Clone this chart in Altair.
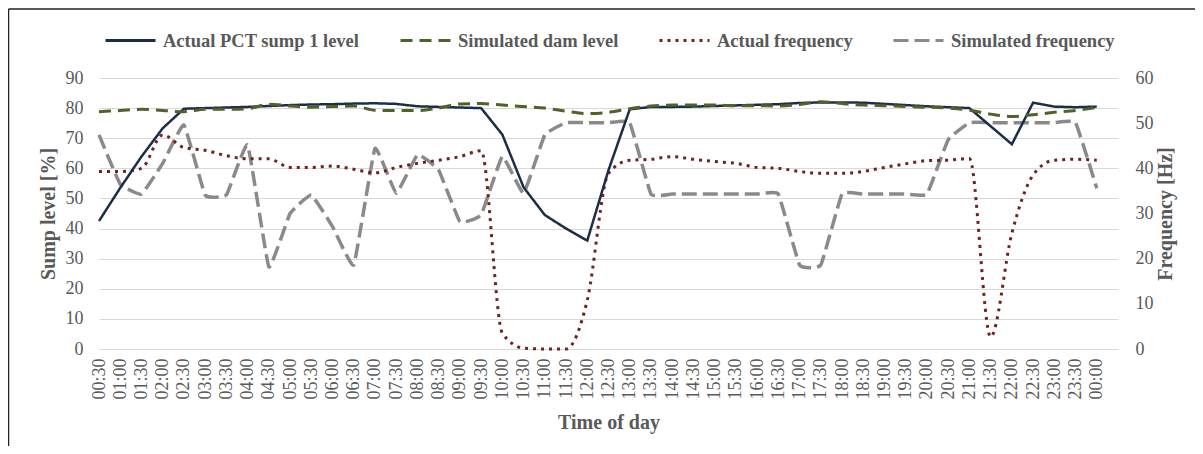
import altair as alt
import pandas as pd

times = ["00:30", "01:00", "01:30", "02:00", "02:30", "03:00", "03:30", "04:00", "04:30", "05:00",
         "05:30", "06:00", "06:30", "07:00", "07:30", "08:00", "08:30", "09:00", "09:30", "10:00",
         "10:30", "11:00", "11:30", "12:00", "12:30", "13:00", "13:30", "14:00", "14:30", "15:00",
         "15:30", "16:00", "16:30", "17:00", "17:30", "18:00", "18:30", "19:00", "19:30", "20:00",
         "20:30", "21:00", "21:30", "22:00", "22:30", "23:00", "23:30", "00:00"]

actual_sump = [42.5, 53.5, 63.9, 73.3, 79.8, 80.0, 80.2, 80.4, 80.7, 81.0,
               81.2, 81.3, 81.5, 81.6, 81.4, 80.6, 80.4, 80.2, 80.0, 71.2,
               53.7, 44.5, 40.0, 36.0, 59.4, 79.6, 80.4, 80.4, 80.5, 80.7,
               80.9, 81.1, 81.3, 81.7, 81.9, 81.9, 81.8, 81.4, 81.0, 80.6,
               80.3, 80.0, 74.0, 68.0, 81.8, 80.5, 80.3, 80.5]

sim_dam = [78.8, 79.2, 79.6, 79.2, 78.8, 79.6, 79.6, 79.8, 81.3, 80.7,
           80.3, 80.5, 80.7, 79.3, 79.2, 79.2, 80.0, 81.4, 81.5, 81.0,
           80.5, 80.0, 79.0, 78.2, 78.6, 79.8, 80.7, 81.0, 81.0, 81.0,
           80.8, 80.8, 80.7, 81.2, 82.1, 81.5, 81.0, 80.8, 80.5, 80.3,
           80.0, 79.3, 78.0, 77.2, 77.8, 78.6, 79.2, 80.2]

actual_freq = [39.3, 39.3, 40.0, 47.4, 44.6, 44.0, 42.8, 42.1, 42.1, 40.2,
               40.2, 40.5, 39.8, 39.0, 40.2, 41.1, 41.8, 42.6, 43.9, 3.5,
               0.2, 0.0, 0.0, 10.8, 38.9, 41.8, 42.0, 42.6, 42.0, 41.5,
               41.1, 40.2, 40.0, 39.3, 38.9, 38.9, 39.3, 40.2, 41.0, 41.7,
               41.8, 42.2, 2.7, 25.6, 38.5, 41.8, 42.0, 41.8]

sim_freq = [47.4, 36.5, 34.3, 41.1, 49.6, 34.1, 34.1, 45.2, 18.2, 30.0,
            34.1, 27.1, 18.6, 44.4, 34.5, 43.0, 39.6, 28.2, 29.7, 42.6,
            34.5, 47.4, 50.1, 50.1, 50.1, 50.1, 34.3, 34.3, 34.3, 34.3,
            34.3, 34.3, 34.3, 18.6, 18.6, 34.3, 34.3, 34.3, 34.3, 34.3,
            46.3, 50.1, 50.1, 50.1, 50.1, 50.1, 50.1, 35.6]

series_names = ["Actual PCT sump 1 level", "Simulated dam level",
                "Actual frequency", "Simulated frequency"]
series_colors = ["#1c2d4a", "#4f6228", "#6e2222", "#8a8a8a"]
series_dashes = [[1, 0], [12, 7], [3, 5], [15, 6]]

FONT = "Liberation Serif"
TEXT = "#595959"

rows = []
for name, vals in zip(series_names, [actual_sump, sim_dam, actual_freq, sim_freq]):
    for t, v in zip(times, vals):
        rows.append({"time": t, "series": name, "value": v})
df = pd.DataFrame(rows)

legend = alt.Legend(
    title=None, orient="none", legendX=5, legendY=-64, direction="horizontal",
    symbolType="stroke", symbolSize=2500, symbolStrokeWidth=3,
    labelFont=FONT, labelFontSize=18.5, labelFontWeight="bold", labelColor=TEXT,
    labelLimit=400, columnPadding=34, labelOffset=6, padding=0,
)
color_enc = alt.Color("series:N", scale=alt.Scale(domain=series_names, range=series_colors),
                      legend=legend)
dash_enc = alt.StrokeDash("series:N", scale=alt.Scale(domain=series_names, range=series_dashes),
                          legend=legend)

x_enc = alt.X(
    "time:N", sort=times,
    scale=alt.Scale(type="point", paddingOuter=0.233, align=0),
    axis=alt.Axis(title="Time of day", labelAngle=270, labelPadding=9, labelOverlap=False,
                  domain=False, ticks=False, grid=False, titlePadding=13),
)

y_left = alt.Y(
    "value:Q", scale=alt.Scale(domain=[0, 90], nice=False),
    axis=alt.Axis(orient="left", values=list(range(0, 91, 10)), title="Sump level [%]",
                  grid=True, gridColor="#d9d9d9", gridWidth=1, domain=False, ticks=False,
                  labelPadding=16, titlePadding=7),
)
y_right = alt.Y(
    "value:Q", scale=alt.Scale(domain=[0, 60], nice=False),
    axis=alt.Axis(orient="right", values=list(range(0, 61, 10)), title="Frequency [Hz]",
                  grid=False, domain=False, ticks=False, labelPadding=17,
                  titleAngle=270, titlePadding=22),
)


def series_layer(name, y_enc, width, interp, tension=None):
    sub = df[df["series"] == name]
    mark_kwargs = {"strokeWidth": width, "interpolate": interp}
    if tension is not None:
        mark_kwargs["tension"] = tension
    return alt.Chart(sub).mark_line(**mark_kwargs).encode(
        x=x_enc, y=y_enc, color=color_enc, strokeDash=dash_enc
    )


right_layers = alt.layer(
    series_layer("Simulated frequency", y_right, 3.5, "cardinal", 0.7),
    series_layer("Actual frequency", y_right, 3, "monotone"),
)
left_layers = alt.layer(
    series_layer("Actual PCT sump 1 level", y_left, 2.5, "linear"),
    series_layer("Simulated dam level", y_left, 3, "monotone"),
)

frame_src = alt.Data(values=[{}])
frame_left = alt.Chart(frame_src).mark_rule(color="#222222", strokeWidth=1.5).encode(
    x=alt.value(-90.5), y=alt.value(-69), y2=alt.value(370))
frame_top = alt.Chart(frame_src).mark_rule(color="#222222", strokeWidth=1.5).encode(
    x=alt.value(-90.5), x2=alt.value(1100), y=alt.value(-69))

chart = alt.layer(right_layers, left_layers, frame_left, frame_top).resolve_scale(
    y="independent"
).properties(
    width=1019, height=271,
    padding={"left": 91, "top": 70, "right": 77, "bottom": 97},
    autosize=alt.AutoSizeParams(type="none"),
).configure_axis(
    labelFont=FONT, titleFont=FONT, labelColor=TEXT, titleColor=TEXT,
    labelFontSize=18, titleFontSize=20, titleFontWeight="bold",
).configure_view(strokeWidth=0)

chart.save("out.html", embed_options={"renderer": "svg", "actions": False})
